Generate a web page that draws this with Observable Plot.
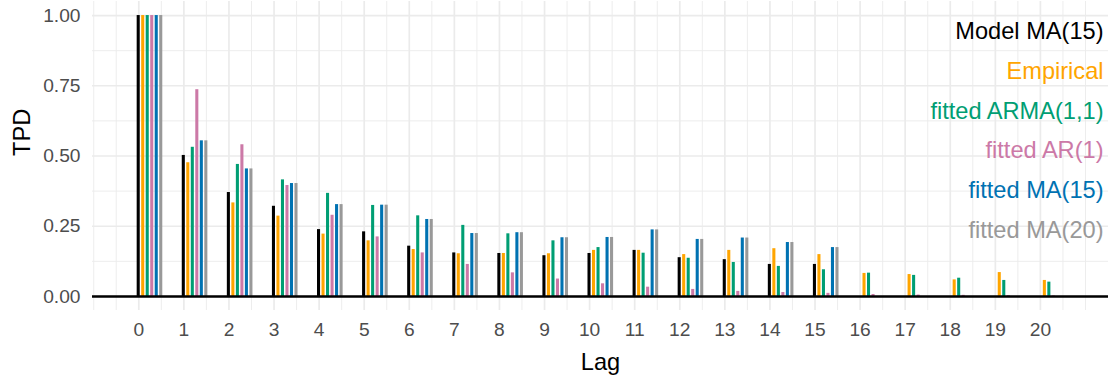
<!DOCTYPE html>
<html>
<head>
<meta charset="utf-8">
<script src="https://cdn.jsdelivr.net/npm/d3@7"></script>
<script src="https://cdn.jsdelivr.net/npm/@observablehq/plot@0.6"></script>
<style>
  html, body { margin: 0; padding: 0; background: #fff; }
</style>
</head>
<body>
<div id="chart"></div>
<script>
// ---- Data ----
const lags = [0,1,2,3,4,5,6,7,8,9,10,11,12,13,14,15,16,17,18,19,20];

const seriesNames = ["Model MA(15)", "Empirical", "fitted ARMA(1,1)", "fitted AR(1)", "fitted MA(15)", "fitted MA(20)"];
const seriesColors = ["#000000", "#FFA500", "#009E73", "#CC79A7", "#0072B2", "#999999"];

const modelMA15 = [1, 0.502, 0.370, 0.321, 0.238, 0.230, 0.179, 0.155, 0.153, 0.145, 0.153, 0.164, 0.138, 0.131, 0.114, 0.114, 0, 0, 0, 0, 0];
const empirical = [1, 0.476, 0.333, 0.286, 0.222, 0.198, 0.167, 0.152, 0.153, 0.152, 0.164, 0.164, 0.149, 0.164, 0.170, 0.149, 0.082, 0.078, 0.059, 0.085, 0.057];
const fittedARMA = [1, 0.531, 0.470, 0.415, 0.367, 0.324, 0.287, 0.253, 0.223, 0.198, 0.174, 0.154, 0.136, 0.121, 0.107, 0.095, 0.083, 0.075, 0.065, 0.057, 0.051];
const fittedAR1 = [1, 0.736, 0.540, 0.395, 0.289, 0.212, 0.155, 0.114, 0.084, 0.062, 0.045, 0.033, 0.025, 0.018, 0.014, 0.011, 0.007, 0.005, 0.004, 0.003, 0.002];
const fittedMA15 = [1, 0.554, 0.454, 0.402, 0.327, 0.325, 0.274, 0.224, 0.227, 0.209, 0.210, 0.237, 0.203, 0.208, 0.192, 0.174, 0, 0, 0, 0, 0];
const fittedMA20 = [1, 0.554, 0.454, 0.402, 0.327, 0.325, 0.274, 0.224, 0.227, 0.209, 0.210, 0.237, 0.203, 0.208, 0.192, 0.174, 0, 0, 0, 0, 0];

const xBreaks = [0,1,2,3,4,5,6,7,8,9,10,11,12,13,14,15,16,17,18,19,20];
const yBreaks = [0, 0.25, 0.5, 0.75, 1];

// ---- Build tidy table ----
const allSeries = [modelMA15, empirical, fittedARMA, fittedAR1, fittedMA15, fittedMA20];
const rows = [];
allSeries.forEach((vals, k) => {
  vals.forEach((v, i) => rows.push({lag: lags[i], k, series: seriesNames[k], value: v}));
});

const dodge = 0.1, barW = 0.068;
const xMinor = d3.range(-1, 21.01, 0.5).filter(v => !xBreaks.includes(v));
const yMinor = [0.125, 0.375, 0.625, 0.875];

const font = "'Liberation Sans', Arial, sans-serif";

const legendMarks = seriesNames.map((name, i) =>
  Plot.text([name], {
    text: d => d,
    frameAnchor: "top-right",
    textAnchor: "end",
    lineAnchor: "middle",
    dx: -5,
    dy: 30 + 39.8 * i,
    fill: seriesColors[i],
    fontSize: 23.6
  })
);

const chart = Plot.plot({
  width: 1114,
  height: 381,
  marginLeft: 92,
  marginRight: 6,
  marginTop: 1,
  marginBottom: 71,
  style: {fontFamily: font, background: "#fff"},
  x: {domain: [-1.027, 21.51], axis: null},
  y: {domain: [-0.05, 1.05], axis: null},
  color: {type: "ordinal", domain: seriesNames, range: seriesColors},
  marks: [
    Plot.gridX(xMinor, {stroke: "#EBEBEB", strokeOpacity: 1, strokeWidth: 0.9}),
    Plot.gridY(yMinor, {stroke: "#EBEBEB", strokeOpacity: 1, strokeWidth: 0.9}),
    Plot.gridX(xBreaks, {stroke: "#EBEBEB", strokeOpacity: 1, strokeWidth: 1.7}),
    Plot.gridY(yBreaks, {stroke: "#EBEBEB", strokeOpacity: 1, strokeWidth: 1.7}),
    Plot.rectY(rows, {
      x1: d => d.lag + dodge * d.k - 0.036,
      x2: d => d.lag + dodge * d.k - 0.036 + barW,
      y1: 0,
      y2: "value",
      fill: "series"
    }),
    Plot.ruleY([0], {stroke: "#000", strokeWidth: 2.6}),
    Plot.axisX({ticks: xBreaks, tickSize: 0, tickPadding: 12, tickFormat: d => String(d), fontSize: 19.2, fill: "#4D4D4D", label: null}),
    Plot.axisY({ticks: yBreaks, tickSize: 0, tickPadding: 12, tickFormat: d3.format(".2f"), fontSize: 19.2, fill: "#4D4D4D", label: null}),
    Plot.text(["Lag"], {text: d => d, frameAnchor: "bottom", dy: 52, lineAnchor: "middle", fontSize: 23.6, fill: "#000"}),
    Plot.text(["TPD"], {text: d => d, frameAnchor: "left", dx: -70, rotate: -90, lineAnchor: "middle", fontSize: 23.6, fill: "#000"}),
    ...legendMarks
  ]
});

document.getElementById("chart").appendChild(chart);
</script>
</body>
</html>
